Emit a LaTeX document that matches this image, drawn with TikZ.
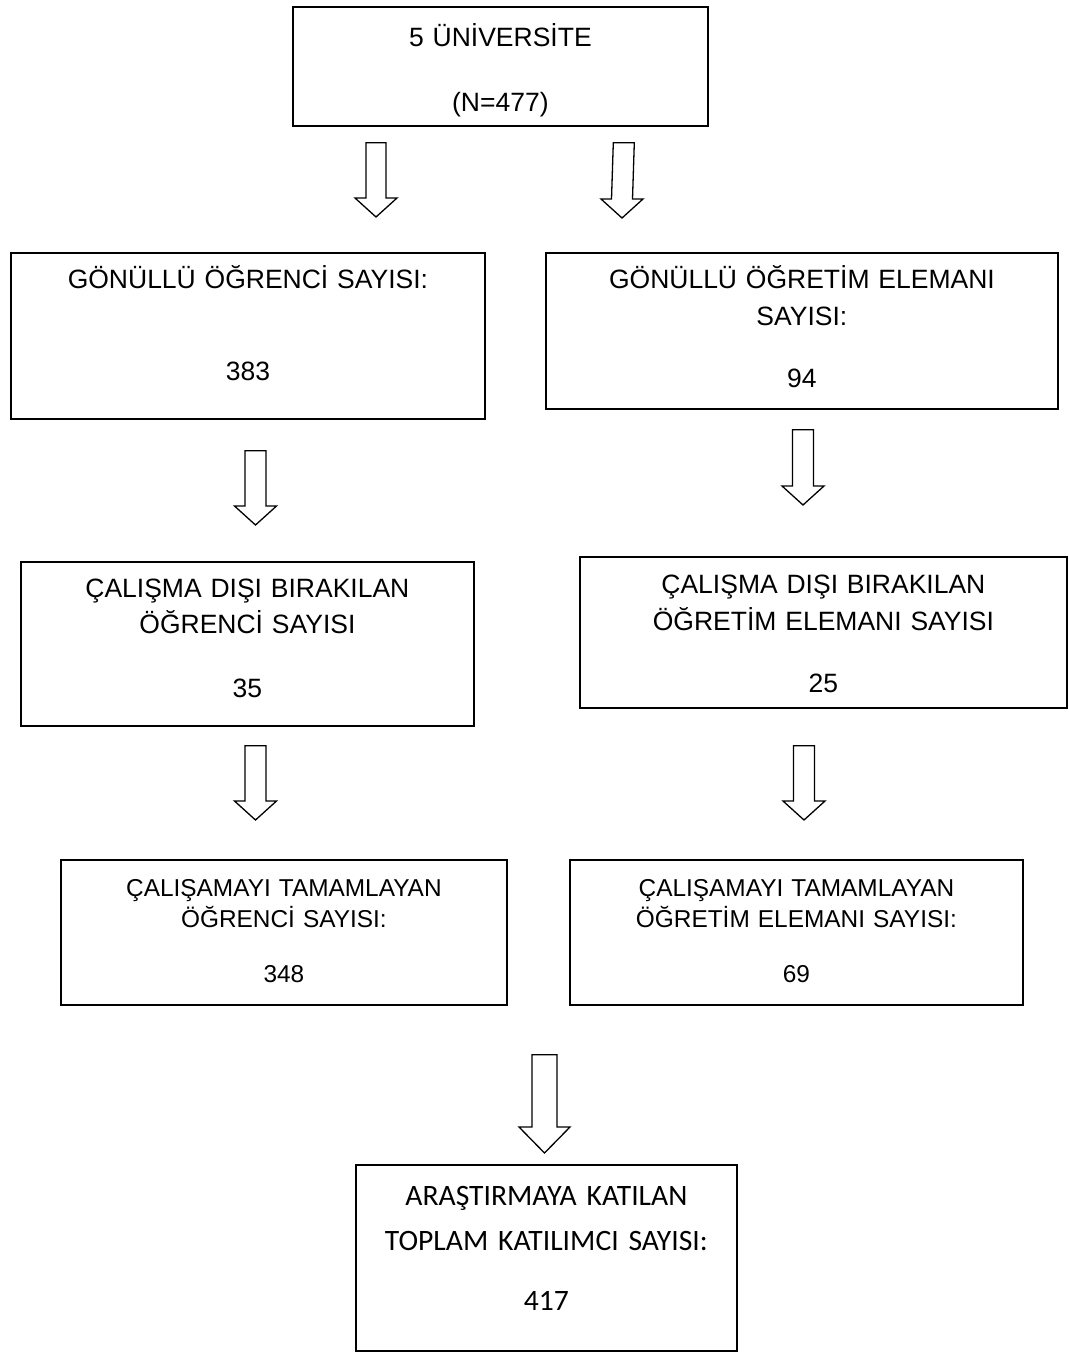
\documentclass[tikz,border=0pt]{standalone}
\usepackage{fontspec}
\setmainfont{Liberation Sans}
\newfontfamily\calibri{Carlito}
\usetikzlibrary{calc}
\tikzset{
    kutu/.style={draw, line width=1.8pt, anchor=north west, inner sep=0pt, align=center,
        font=\fontsize{26.5}{30}\selectfont},
    dar/.style={font=\fontsize{24.4}{27}\selectfont},
    pil/.style args={#1/#2/#3}{draw, line width=1.3pt, line join=miter,
        to path={($(\tikztostart)+(-#1,0)$) -- ($(\tikztotarget)+(-#1,-#3)$)
            -- ($(\tikztotarget)+(-#2,-#3)$) -- (\tikztotarget)
            -- ($(\tikztotarget)+(#2,-#3)$) -- ($(\tikztotarget)+(#1,-#3)$)
            -- ($(\tikztostart)+(#1,0)$) -- cycle}}
}

\begin{document}
\begin{tikzpicture}[x=1pt,y=-1pt]
    \useasboundingbox (0,0) rectangle (1068,1356);

    \node[kutu, text width=415pt, text height=39.5pt, text depth=79.5pt] (uni) at (292,6)
        {5 ÜNİVERSİTE\\[35pt](N=477)};

    \node[kutu, text width=474pt, text height=35.5pt, text depth=130.5pt] (ogr1) at (10,252)
        {GÖNÜLLÜ ÖĞRENCİ SAYISI:\\[62pt]383};
    \node[kutu, text width=512pt, text height=35.5pt, text depth=120.5pt] (oe1) at (545,252)
        {GÖNÜLLÜ ÖĞRETİM ELEMANI\\[7pt]SAYISI:\\[32pt]94};

    \node[kutu, text width=453pt, text height=35.5pt, text depth=128.5pt] (ogr2) at (20,561)
        {ÇALIŞMA DIŞI BIRAKILAN\\[6pt]ÖĞRENCİ SAYISI\\[34pt]35};
    \node[kutu, text width=487pt, text height=36.5pt, text depth=114.5pt] (oe2) at (579,556)
        {ÇALIŞMA DIŞI BIRAKILAN\\[7pt]ÖĞRETİM ELEMANI SAYISI\\[32pt]25};

    \node[kutu, dar, text width=446pt, text height=37pt, text depth=108pt] (ogr3) at (60,859)
        {ÇALIŞAMAYI TAMAMLAYAN\\[4pt]ÖĞRENCİ SAYISI:\\[28pt]348};
    \node[kutu, dar, text width=453pt, text height=37pt, text depth=108pt] (oe3) at (569,859)
        {ÇALIŞAMAYI TAMAMLAYAN\\[4pt]ÖĞRETİM ELEMANI SAYISI:\\[28pt]69};

    \node[kutu, font=\calibri\fontsize{29.6}{36}\selectfont,
        text width=381pt, text height=40.5pt, text depth=145.5pt] (toplam) at (355,1164)
        {ARAŞTIRMAYA KATILAN\\[9pt]TOPLAM KATILIMCI SAYISI:\\[24pt]417};

    \path
        ($(uni.south west)+(84,16)$) edge[pil=10/21/19] ($(ogr1.north west)+(366,-35)$)
        ($(uni.south east)+(-85,16)$) edge[pil=10.5/21/19] ($(oe1.north west)+(77,-34)$)
        ($(ogr1.south west)+(245.5,31)$) edge[pil=10.5/21/19] ($(ogr2.north west)+(235.5,-36)$)
        ($(oe1.south west)+(258,20)$) edge[pil=10.5/21/19] ($(oe2.north west)+(224,-51)$)
        ($(ogr2.south west)+(235.5,19)$) edge[pil=10.5/21/19] ($(ogr3.north west)+(195.5,-39)$)
        ($(oe2.south west)+(225,37)$) edge[pil=10.5/21/19] ($(oe3.north west)+(235,-39)$)
        ($(oe3.south west)+(-24.5,49)$) edge[pil=12.5/25.5/26] ($(toplam.north west)+(189.5,-11)$)
        ;
\end{tikzpicture}
\end{document}
